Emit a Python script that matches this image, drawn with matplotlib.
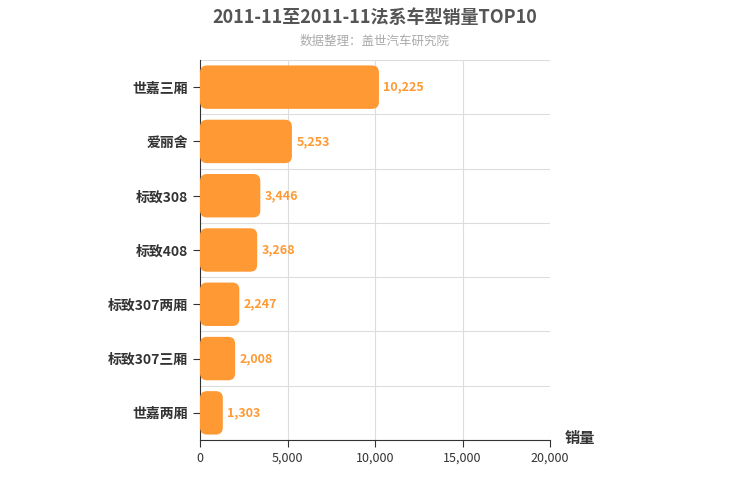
import matplotlib
matplotlib.use('Agg')
import matplotlib.pyplot as plt
from matplotlib.patches import FancyBboxPatch

plt.rcParams['font.family'] = ['Noto Sans CJK SC', 'DejaVu Sans']

models = ['世嘉三厢', '爱丽舍', '标致308', '标致408', '标致307两厢', '标致307三厢', '世嘉两厢']
sales = [10225, 5253, 3446, 3268, 2247, 2008, 1303]
xticks = [0, 5000, 10000, 15000, 20000]

bar_color = '#FF9933'

fig = plt.figure(figsize=(7.5, 5), dpi=100)
ax = fig.add_axes([200 / 750, 0.12, 350 / 750, 0.76])

n = len(models)
ax.set_xlim(0, 20000)
ax.set_ylim(n - 0.5, -0.5)

# 둥근 막대: 데이터 좌표의 x/y 비율 보정
px_x = 20000 / 350
px_y = n / 380
rs = 7 * px_x
for i, v in enumerate(sales):
    box = FancyBboxPatch((0, i - 0.4), v, 0.8,
                         boxstyle=f"round,pad=0,rounding_size={rs}",
                         mutation_aspect=px_y / px_x,
                         fc=bar_color, ec='none', zorder=3)
    ax.add_patch(box)
    ax.text(v + 250, i, f"{v:,}", va='center', ha='left',
            color=bar_color, fontsize=9, fontweight='bold', zorder=4)

ax.set_yticks(range(n))
ax.set_yticklabels(models, fontsize=10, fontweight='bold', color='#333333')
ax.set_xticks(xticks)
ax.set_xticklabels([f"{t:,}" for t in xticks], fontsize=9, color='#333333')

# 카테고리 경계 격자선
for b in [i + 0.5 for i in range(-1, n)]:
    ax.axhline(b, color='#dddddd', lw=0.8, zorder=1)
for t in xticks[1:]:
    ax.axvline(t, color='#dddddd', lw=0.8, zorder=1)

for s in ['top', 'right']:
    ax.spines[s].set_visible(False)
ax.spines['left'].set_color('#333333')
ax.spines['bottom'].set_color('#333333')
ax.tick_params(axis='y', length=5, color='#333333')
ax.tick_params(axis='x', length=5, color='#333333')

fig.text(0.5, 0.965, '2011-11至2011-11法系车型销量TOP10', ha='center', va='center',
         fontsize=13, fontweight='bold', color='#555555')
fig.text(0.5, 0.918, '数据整理：盖世汽车研究院', ha='center', va='center',
         fontsize=9, color='#aaaaaa')
fig.text(565 / 750, 1 - 438 / 500, '销量', ha='left', va='center',
         fontsize=11, fontweight='bold', color='#333333')

fig.savefig('out.png', dpi=100)
